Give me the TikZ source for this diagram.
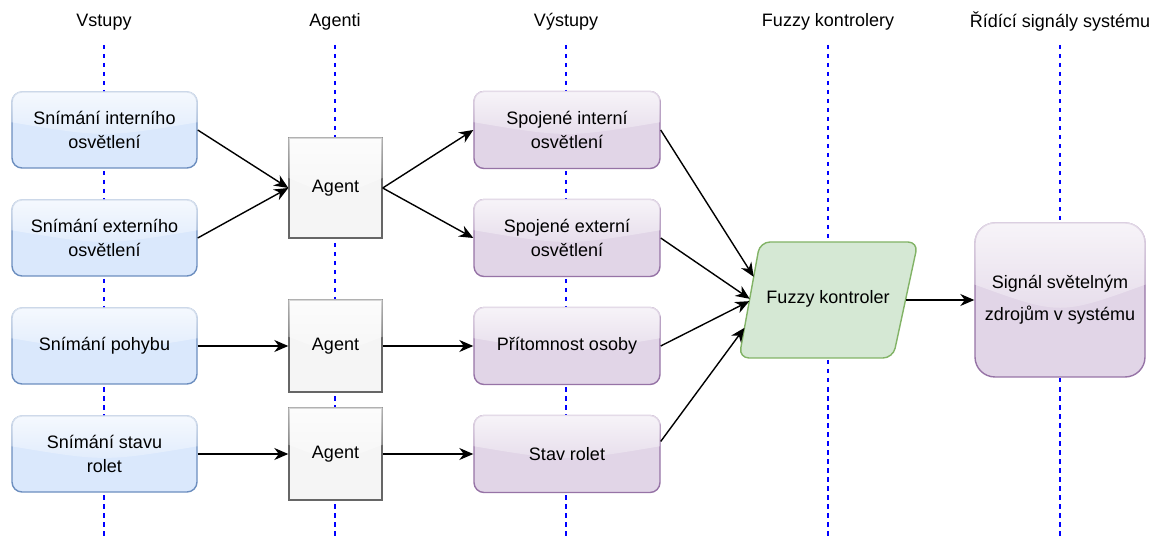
\documentclass[tikz,border=0pt]{standalone}
\usepackage{fontspec}
\setmainfont{Liberation Sans}
\usetikzlibrary{arrows.meta,calc,fadings,shadows}

\definecolor{inFill}{HTML}{DAE8FC}
\definecolor{inLine}{HTML}{6C8EBF}
\definecolor{outFill}{HTML}{E1D5E7}
\definecolor{outLine}{HTML}{9673A6}
\definecolor{agFill}{HTML}{F5F5F5}
\definecolor{agLine}{HTML}{666666}
\definecolor{fzFill}{HTML}{D5E8D4}
\definecolor{fzLine}{HTML}{82B366}
\definecolor{laneBlue}{HTML}{0000FF}

% white gloss that fades out towards the bottom
\tikzfading[name=glassfade, top color=transparent!25, bottom color=transparent!82]

% glossy highlight over the upper part of a node, border included
% (#1 = node, #2 = corner radius)
\newcommand\glassover[2]{%
  \begin{scope}
    \clip[rounded corners=#2] (#1.south west) rectangle (#1.north east);
    \fill[white, path fading=glassfade]
      (#1.north west) -- (#1.north east)
      -- ($(#1.north east)!0.4!(#1.south east)$)
      .. controls ($(#1.north)!0.6!(#1.south)$) ..
      ($(#1.north west)!0.4!(#1.south west)$) -- cycle;
  \end{scope}}

\begin{document}
\begin{tikzpicture}[x=1pt, y=1pt,
  every node/.style={font=\fontsize{18}{24}\selectfont, text=black},
  txt/.style={align=center, inner sep=0pt},
  box/.style={rounded corners=10pt, line width=1.4pt, inner sep=0pt},
  inbox/.style={box, fill=inFill, draw=inLine, minimum width=185pt, minimum height=76pt},
  outbox/.style={box, fill=outFill, draw=outLine, minimum width=186pt, minimum height=77pt},
  agentbox/.style={fill=agFill, draw=agLine, line width=1.4pt, inner sep=0pt,
    minimum width=93pt, minimum height=92pt,
    drop shadow={shadow xshift=1.2pt, shadow yshift=-1.2pt, opacity=0.35, fill=black}},
  sigbox/.style={rounded corners=20pt, line width=1.4pt, inner sep=0pt,
    fill=outFill, draw=outLine, minimum width=170pt, minimum height=154pt},
  fzshape/.style={fill=fzFill, draw=fzLine, line width=1.4pt, rounded corners=10pt},
  lane/.style={draw=laneBlue, dash pattern=on 4.5pt off 4.5pt, line width=1.3pt},
  flow/.style={-{Stealth[length=14pt, width=12pt, inset=4.5pt]}, line width=1.4pt}
]
\useasboundingbox (0,0) rectangle (1155,538);

% column headings
\node (hIn)  at (104,516)  {Vstupy};
\node (hAg)  at (335,516)  {Agenti};
\node (hOut) at (566,516)  {Výstupy};
\node (hFz)  at (828,516)  {Fuzzy kontrolery};
\node (hSig) at (1060,516) {Řídící signály systému};

% swim-lane guides
\foreach \x in {104,335,566,828,1060}
  \draw[lane] (\x,493) -- (\x,0);

% input shapes
\node[inbox] (in1) at (104.5,408) {};
\node[inbox] (in2) at (104.5,300) {};
\node[inbox] (in3) at (104.5,192) {};
\node[inbox] (in4) at (104.5,84)  {};

% agent shapes
\node[agentbox, minimum height=100pt] (ag1) at (335.5,350) {};
\node[agentbox] (ag2) at (335.5,192) {};
\node[agentbox] (ag3) at (335.5,84)  {};

% output shapes
\node[outbox] (o1) at (567,408) {};
\node[outbox] (o2) at (567,300) {};
\node[outbox] (o3) at (567,192) {};
\node[outbox] (o4) at (567,84)  {};

% control signal shape
\node[sigbox] (sig) at (1060,238) {};

% gloss on the glassy shapes
\foreach \n in {in1,in2,in3,in4,o1,o2,o3,o4} { \glassover{\n}{10.7pt} }
\foreach \n in {ag1,ag2,ag3} { \glassover{\n}{0pt} }
\glassover{sig}{20.7pt}

% fuzzy controller (parallelogram)
\coordinate (ftl) at (760,296);
\coordinate (ftr) at (918,296);
\coordinate (fbr) at (893,180);
\coordinate (fbl) at (739,180);
\draw[fzshape] (ftl) -- (ftr) -- (fbr) -- (fbl) -- cycle;
\node[txt] (fz) at (828,239) {Fuzzy kontroler};

% texts of the boxes
\node[txt] (in1t) at (in1.center) {Snímání interního\\osvětlení};
\node[txt] (in2t) at (in2.center) {Snímání externího\\osvětlení};
\node[txt] (in3t) at (in3.center) {Snímání pohybu};
\node[txt] (in4t) at (in4.center) {Snímání stavu\\rolet};
\node[txt] (ag1t) at (ag1.center) {Agent};
\node[txt] (ag2t) at (ag2.center) {Agent};
\node[txt] (ag3t) at (ag3.center) {Agent};
\node[txt] (o1t) at (o1.center) {Spojené interní\\osvětlení};
\node[txt] (o2t) at (o2.center) {Spojené externí\\osvětlení};
\node[txt] (o3t) at (o3.center) {Přítomnost osoby};
\node[txt] (o4t) at (o4.center) {Stav rolet};
\node[txt] (sigt) at (sig.center) {Signál světelným\\[8pt]zdrojům v systému};

% connection points on the controller
\coordinate (f1) at ($(fbl)!0.70!(ftl)$);
\coordinate (f2) at ($(fbl)!0.51!(ftl)$);
\coordinate (f3) at ($(fbl)!0.49!(ftl)$);
\coordinate (f4) at ($(fbl)!0.26!(ftl)$);
\coordinate (fzr) at ($(ftr)!0.5!(fbr)$);
\coordinate (o4e) at ($(o4.north east)!0.34!(o4.south east)$);

% flows
\draw[flow] (in1.east) -- (ag1.west);
\draw[flow] (in2.east) -- (ag1.west);
\draw[flow] (in3.east) -- (ag2.west);
\draw[flow] (in4.east) -- (ag3.west);
\draw[flow] (ag1.east) -- (o1.west);
\draw[flow] (ag1.east) -- (o2.west);
\draw[flow] (ag2.east) -- (o3.west);
\draw[flow] (ag3.east) -- (o4.west);
\draw[flow] (o1.east) -- (f1);
\draw[flow] (o2.east) -- (f2);
\draw[flow] (o3.east) -- (f3);
\draw[flow] (o4e) -- (f4);
\draw[flow] (fzr) -- (sig.west);
\end{tikzpicture}
\end{document}
